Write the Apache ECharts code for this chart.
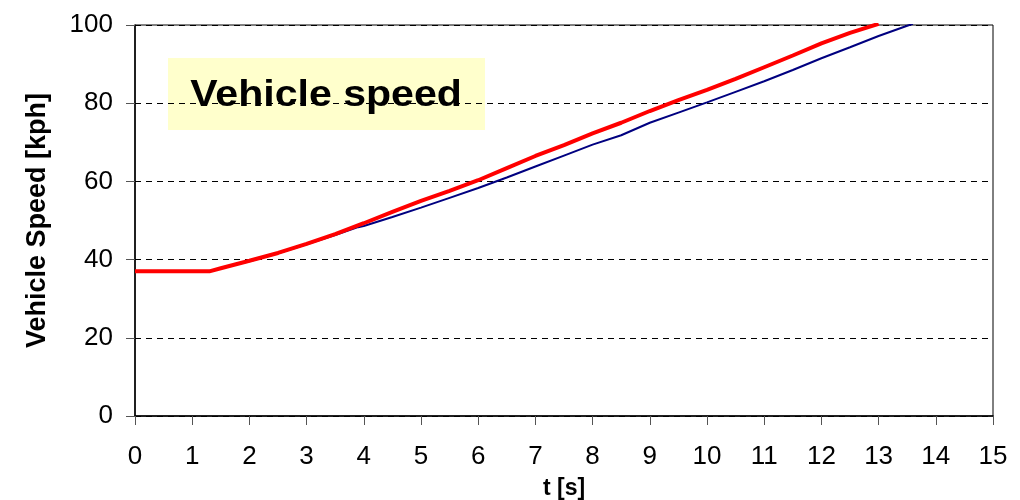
<!DOCTYPE html>
<html>
<head>
<meta charset="utf-8">
<script src="https://cdn.jsdelivr.net/npm/echarts@6/dist/echarts.min.js"></script>
<style>
html,body{margin:0;padding:0;background:#fff;}
#chart{width:1020px;height:500px;}
</style>
</head>
<body>
<div id="chart"></div>
<script>
const chartTitle = "Vehicle speed";
const xAxisName = "t [s]";
const yAxisName = "Vehicle Speed [kph]";

const redTime  = [0, 0.5, 1.0, 1.3, 1.5, 2.0, 2.5, 3.0, 3.5, 4.0, 4.5, 5.0, 5.5, 6.0, 6.5, 7.0, 7.5, 8.0, 8.5, 9.0, 9.5, 10.0, 10.5, 11.0, 11.5, 12.0, 12.5, 13.0];
const redSpeed = [37, 37, 37, 37, 37.8, 39.7, 41.7, 44.0, 46.5, 49.3, 52.2, 55.0, 57.6, 60.3, 63.4, 66.5, 69.3, 72.3, 75.0, 78.0, 80.8, 83.4, 86.2, 89.2, 92.2, 95.3, 98.0, 100.3];

const blueTime  = [0, 0.5, 1.0, 1.3, 1.5, 2.0, 2.5, 3.0, 3.5, 3.9, 4.0, 4.5, 5.0, 5.5, 6.0, 6.5, 7.0, 7.5, 8.0, 8.5, 9.0, 9.5, 10.0, 10.5, 11.0, 11.5, 12.0, 12.5, 13.0, 13.5, 13.6];
const blueSpeed = [37, 37, 37, 37, 37.8, 39.6, 41.6, 43.9, 46.3, 48.3, 48.6, 50.9, 53.3, 55.8, 58.3, 61.0, 63.8, 66.6, 69.4, 71.8, 75.0, 77.6, 80.2, 82.9, 85.6, 88.5, 91.5, 94.3, 97.2, 99.8, 100.3];

const toPairs = (xs, ys) => xs.map((x, i) => [x, ys[i]]);

const chart = echarts.init(document.getElementById('chart'), null, {renderer: 'canvas'});
const FONT = '"Liberation Sans", Arial, sans-serif';

chart.setOption({
  animation: false,
  backgroundColor: '#ffffff',
  textStyle: {fontFamily: FONT, color: '#000'},
  grid: {left: 135, right: 27, top: 25, bottom: 84, show: true, borderColor: '#000', borderWidth: 1,
         backgroundColor: 'transparent', containLabel: false, outerBoundsMode: 'none'},
  xAxis: {
    type: 'value', min: 0, max: 15, interval: 1,
    name: xAxisName, nameLocation: 'middle', nameGap: 61,
    nameTextStyle: {fontFamily: FONT, fontWeight: 'bold', fontSize: 23, color: '#000'},
    axisLine: {lineStyle: {color: '#000', width: 1.5}},
    axisTick: {show: true, inside: false, length: 9, lineStyle: {color: '#555'}},
    axisLabel: {fontFamily: FONT, fontSize: 26, color: '#000', margin: 28},
    splitLine: {show: false}
  },
  yAxis: {
    type: 'value', min: 0, max: 100, interval: 20,
    name: yAxisName, nameLocation: 'middle', nameGap: 84,
    nameTextStyle: {fontFamily: FONT, fontWeight: 'bold', fontSize: 27, color: '#000'},
    axisLine: {show: true, lineStyle: {color: '#000', width: 1.5}},
    axisTick: {show: true, inside: false, length: 9, lineStyle: {color: '#555'}},
    axisLabel: {fontFamily: FONT, fontSize: 26, color: '#000', margin: 22},
    splitLine: {show: true, lineStyle: {color: '#000', type: [6, 5], width: 1}}
  },
  graphic: [{
    type: 'group', left: 168, top: 58, z: 100,
    children: [
      {type: 'rect', shape: {x: 0, y: 0, width: 317, height: 72}, style: {fill: '#FFFFCC'}},
      {type: 'text', x: 158, y: 38, scaleX: 1.11, style: {text: chartTitle, font: 'bold 37px ' + FONT, fill: '#000', align: 'center', verticalAlign: 'middle'}}
    ]
  }],
  series: [
    {
      type: 'line', data: toPairs(blueTime, blueSpeed), showSymbol: false, symbol: 'none',
      lineStyle: {color: '#000080', width: 2}, z: 3, clip: true
    },
    {
      type: 'line', data: toPairs(redTime, redSpeed), showSymbol: false, symbol: 'none',
      lineStyle: {color: '#FF0000', width: 4}, z: 4, clip: true
    }
  ]
});
</script>
</body>
</html>
